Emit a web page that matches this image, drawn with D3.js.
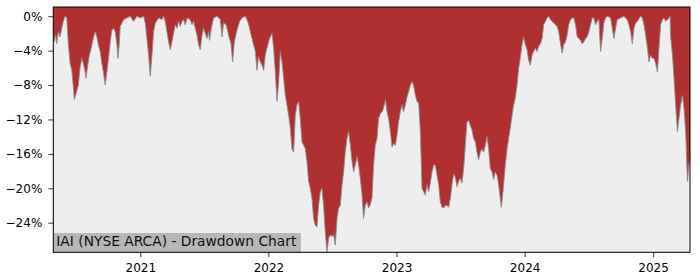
<!DOCTYPE html>
<html>
<head>
<meta charset="utf-8">
<script src="https://cdn.jsdelivr.net/npm/d3@7"></script>
<style>
    body { margin: 0; background: #fff; }
    svg text { font-family: 'DejaVu Sans', sans-serif; }
</style>
</head>
<body>
<svg id="drawdown-svg" width="700" height="280"></svg>
<script>
// dates as decimal years, drawdown in percent
const years = [
    2020.323, 2020.331, 2020.342, 2020.350, 2020.362, 2020.375, 2020.389, 2020.401, 2020.415, 2020.428,
    2020.440, 2020.454, 2020.467, 2020.479, 2020.487, 2020.500, 2020.518, 2020.532, 2020.545, 2020.557,
    2020.571, 2020.578, 2020.589, 2020.604, 2020.615, 2020.631, 2020.641, 2020.649, 2020.662, 2020.674,
    2020.688, 2020.701, 2020.713, 2020.727, 2020.740, 2020.753, 2020.766, 2020.779, 2020.792, 2020.805,
    2020.818, 2020.826, 2020.836, 2020.844, 2020.857, 2020.870, 2020.896, 2020.922,
    2020.948, 2020.974, 2021.000, 2021.026, 2021.039, 2021.052, 2021.065, 2021.078, 2021.091, 2021.104,
    2021.117, 2021.143, 2021.169, 2021.182, 2021.195, 2021.208, 2021.221, 2021.234, 2021.247, 2021.260,
    2021.273, 2021.286, 2021.299, 2021.312, 2021.326, 2021.338, 2021.351, 2021.365, 2021.390, 2021.404,
    2021.416, 2021.429, 2021.443, 2021.455, 2021.468, 2021.482, 2021.494, 2021.507, 2021.521, 2021.533,
    2021.541, 2021.552,
    2021.572, 2021.599, 2021.625, 2021.638, 2021.650, 2021.671, 2021.689, 2021.708, 2021.721, 2021.734,
    2021.755, 2021.775, 2021.794, 2021.820, 2021.838, 2021.853, 2021.872, 2021.884, 2021.898, 2021.911,
    2021.923, 2021.937, 2021.950, 2021.963, 2021.976, 2021.989, 2022.009, 2022.028, 2022.041, 2022.054,
    2022.067, 2022.080, 2022.093, 2022.106, 2022.119, 2022.132, 2022.158, 2022.171,
    2022.184, 2022.197, 2022.210, 2022.223, 2022.236, 2022.249, 2022.262, 2022.275, 2022.288, 2022.301,
    2022.314, 2022.327, 2022.340, 2022.353, 2022.366, 2022.379, 2022.392, 2022.405, 2022.418, 2022.431,
    2022.444, 2022.457, 2022.470, 2022.483, 2022.496, 2022.509, 2022.522, 2022.536, 2022.548, 2022.561,
    2022.575, 2022.587, 2022.600, 2022.614, 2022.626, 2022.639, 2022.653, 2022.665, 2022.678, 2022.692,
    2022.704, 2022.717, 2022.731, 2022.743, 2022.756, 2022.770, 2022.782, 2022.795, 2022.809,
    2022.821, 2022.834, 2022.848, 2022.860, 2022.874, 2022.887, 2022.899, 2022.913, 2022.926, 2022.938,
    2022.952, 2022.965, 2022.977, 2022.991, 2023.004, 2023.016, 2023.030, 2023.043, 2023.055, 2023.069,
    2023.082, 2023.094, 2023.108, 2023.121, 2023.133, 2023.147, 2023.160, 2023.173, 2023.186, 2023.199,
    2023.212, 2023.225, 2023.238, 2023.251, 2023.264, 2023.277, 2023.290, 2023.303, 2023.316, 2023.329,
    2023.342, 2023.355, 2023.368, 2023.381, 2023.394, 2023.407, 2023.420,
    2023.433, 2023.446, 2023.459, 2023.472, 2023.485, 2023.498, 2023.511, 2023.524, 2023.537, 2023.550,
    2023.563, 2023.576, 2023.589, 2023.602, 2023.615, 2023.628, 2023.641, 2023.654, 2023.667, 2023.680,
    2023.693, 2023.706, 2023.719, 2023.732, 2023.746, 2023.758, 2023.771, 2023.785, 2023.797, 2023.810,
    2023.818, 2023.831, 2023.849, 2023.863, 2023.875, 2023.888, 2023.902, 2023.914, 2023.927, 2023.941,
    2023.953, 2023.966, 2023.980, 2023.992, 2024.005, 2024.019, 2024.031, 2024.044,
    2024.058, 2024.070, 2024.084, 2024.097, 2024.109, 2024.123, 2024.136, 2024.148, 2024.162, 2024.175,
    2024.187, 2024.201, 2024.214, 2024.226, 2024.240, 2024.253, 2024.265, 2024.279, 2024.292, 2024.304,
    2024.318, 2024.331, 2024.343, 2024.357, 2024.370, 2024.383, 2024.396, 2024.409, 2024.422, 2024.435,
    2024.448, 2024.461, 2024.474, 2024.487, 2024.500, 2024.513, 2024.526, 2024.539, 2024.552, 2024.565,
    2024.578, 2024.591, 2024.604, 2024.617, 2024.630, 2024.643, 2024.669,
    2024.682, 2024.695, 2024.708, 2024.721, 2024.747, 2024.773, 2024.786, 2024.799, 2024.812, 2024.825,
    2024.838, 2024.851, 2024.864, 2024.877, 2024.903, 2024.916, 2024.929, 2024.942, 2024.956, 2024.968,
    2024.981, 2024.995, 2025.007, 2025.020, 2025.034, 2025.046, 2025.059, 2025.073, 2025.085, 2025.098,
    2025.112, 2025.124, 2025.132, 2025.137, 2025.151, 2025.163, 2025.176, 2025.190, 2025.202, 2025.215,
    2025.229, 2025.241, 2025.254, 2025.268, 2025.280, 2025.288
]

const drawdown = [
    -1.6, -3.0, -2.2, -3.2, -1.8, -2.4, -1.4, -0.6, 0, -0.2,
    -3.3, -5.5, -6.3, -8.2, -9.7, -9.0, -8.0, -5.9, -4.9, -5.5,
    -6.5, -7.2, -5.9, -4.5, -3.9, -2.8, -2.2, -1.8, -2.4, -3.3,
    -4.1, -5.5, -6.5, -8.0, -6.5, -4.9, -3.0, -1.6, -1.4, -1.8,
    -3.3, -4.9, -3.3, -1.2, -0.8, -0.4, -0.2, 0,
    -0.6, 0, -0.2, 0, -0.8, -2.6, -4.5, -7.0, -4.5, -1.8,
    -0.8, -0.2, -0.4, 0, -0.6, -1.8, -3.0, -3.9, -3.0, -2.0,
    -1.0, -1.4, -0.6, -1.2, -0.6, -0.4, -1.0, -0.2, -0.4, -1.0,
    -0.6, -1.4, -2.2, -3.3, -3.9, -2.2, -1.4, -2.0, -2.6, -1.8,
    -2.8, -1.6,
    -0.2, 0, -0.4, -2.4, -0.8, -1.0, -2.2, -3.2, -5.3, -3.0,
    -1.6, -0.6, -0.2, 0, -0.6, -1.4, -2.6, -3.3, -4.1, -6.3,
    -4.7, -5.3, -5.7, -6.3, -4.5, -3.7, -2.6, -2.0, -3.7, -6.5,
    -9.9, -7.6, -4.1, -5.3, -7.2, -9.2, -11.5, -13.0,
    -15.4, -15.8, -11.5, -10.3, -9.9, -11.9, -14.6, -15.0, -15.4, -16.9,
    -19.2, -20.0, -21.2, -23.5, -24.3, -24.5, -22.0, -20.4, -20.0, -22.0,
    -25.1, -27.4, -25.8, -25.4, -25.6, -25.4, -26.6, -23.5, -22.3, -22.0,
    -19.6, -18.1, -15.8, -14.2, -13.4, -14.9, -16.9, -18.1, -17.3, -16.3,
    -17.3, -18.8, -20.8, -23.5, -22.0, -21.6, -22.3, -21.9, -21.1,
    -17.3, -15.0, -14.2, -11.9, -11.3, -11.1, -10.7, -9.7, -11.1, -11.9,
    -13.4, -15.2, -14.8, -15.0, -13.8, -12.3, -11.1, -10.3, -11.1, -10.3,
    -9.4, -8.8, -8.0, -7.6, -8.0, -9.2, -9.9, -10.1, -13.4, -20.0,
    -20.4, -20.8, -19.6, -20.4, -19.4, -18.1, -17.3, -17.3, -18.5, -19.6,
    -21.6, -22.2, -22.3, -22.0, -22.0, -22.2, -21.2,
    -19.6, -18.3, -18.7, -19.8, -19.2, -18.8, -19.4, -17.7, -15.0, -12.3,
    -12.1, -12.7, -13.2, -14.2, -14.6, -15.8, -16.7, -15.8, -15.4, -15.8,
    -15.0, -14.0, -15.4, -17.7, -18.1, -19.0, -18.1, -18.5, -19.6, -21.2,
    -22.2, -20.4, -17.3, -15.4, -14.2, -13.0, -11.5, -10.3, -9.5, -8.0,
    -6.1, -4.9, -3.3, -2.4, -3.3, -3.9, -5.1, -5.7,
    -4.5, -4.1, -3.7, -4.1, -3.5, -3.2, -2.6, -1.0, -0.6, -0.2,
    0, -0.4, -0.6, -0.8, -1.0, -1.2, -1.8, -3.2, -4.3, -3.3,
    -3.0, -2.2, -1.0, -0.4, -0.2, -0.2, -1.0, -2.4, -2.6, -2.8,
    -3.2, -3.0, -2.6, -2.4, -1.8, -1.0, -0.2, -0.2, -1.0, -0.6,
    -0.4, -4.1, -2.6, -0.8, -0.2, 0, -0.2,
    -1.4, -2.6, -1.4, -0.4, -0.2, 0, -0.2, -0.4, -1.0, -1.8,
    -3.2, -1.4, -0.8, -0.6, 0, -0.2, -1.0, -2.2, -3.7, -5.3,
    -4.5, -4.9, -4.9, -5.5, -6.5, -3.7, -1.0, -0.4, -0.2, -0.6,
    -0.4, -0.2, 0, -2.4, -4.5, -7.2, -10.3, -13.4, -11.9, -10.3,
    -9.2, -10.7, -13.4, -19.2, -17.3, -16.5
]

const Y_TICKS = [0, -4, -8, -12, -16, -20, -24]
const X_TICK_YEARS = [2021, 2022, 2023, 2024, 2025]
const Y_LIMITS = [-27.44, 1.07]
const CHART_LABEL = 'IAI (NYSE ARCA) - Drawdown Chart'

// decimal year -> Date
function yearToDate(y) {
    const yr = Math.floor(y)
    const start = new Date(yr, 0, 1)
    const end = new Date(yr + 1, 0, 1)
    return new Date(+start + (y - yr) * (end - start))
}

const data = years.map((yr, i) => ({ date: yearToDate(yr), value: drawdown[i] }))

displayDrawdown(data)

function displayDrawdown(data) {
    const svg = d3.select('#drawdown-svg')
    const width = 700
    const height = 280

    // create margins
    const margin = { top: 7, right: 10, bottom: 27.7, left: 53.3 }
    const contentWidth = width - margin.left - margin.right
    const contentHeight = height - margin.top - margin.bottom

    const g = svg.append('g')
        .attr('transform', `translate(${margin.left},${margin.top})`)

    const x = d3.scaleTime()
        .domain(d3.extent(data, d => d.date))
        .range([0, contentWidth])

    const y = d3.scaleLinear()
        .domain(Y_LIMITS)
        .range([contentHeight, 0])

    // red background = drawdown region, grey below the curve
    g.append('rect')
        .attr('width', contentWidth)
        .attr('height', contentHeight)
        .style('fill', '#b03030')

    const area = d3.area()
        .x(d => x(d.date))
        .y0(contentHeight)
        .y1(d => y(d.value))

    g.append('path')
        .datum(data)
        .attr('d', area)
        .style('fill', '#eeeeee')

    const line = d3.line()
        .x(d => x(d.date))
        .y(d => y(d.value))

    g.append('path')
        .datum(data)
        .attr('d', line)
        .style('fill', 'none')
        .style('stroke', '#8c8c8c')
        .style('stroke-width', 0.9)

    // y axis
    const yAxis = g.append('g')
        .call(d3.axisLeft(y)
            .tickValues(Y_TICKS)
            .tickSize(5)
            .tickPadding(6)
            .tickFormat(d => d === 0 ? '0%' : '\u2212' + Math.abs(d) + '%'))
    yAxis.select('.domain').remove()

    // x axis
    const xAxis = g.append('g')
        .attr('transform', `translate(0, ${contentHeight})`)
        .call(d3.axisBottom(x)
            .tickValues(X_TICK_YEARS.map(yr => new Date(yr, 0, 1)))
            .tickSize(5)
            .tickPadding(6)
            .tickFormat(d3.timeFormat('%Y')))
    xAxis.select('.domain').remove()

    g.selectAll('.tick text')
        .style('font-size', '12px')
        .style('fill', '#000')
    g.selectAll('.tick line')
        .style('stroke', '#000')
        .style('stroke-width', 0.8)

    // label box in bottom-left corner
    const labelBox = g.append('rect')
        .attr('x', 0.5)
        .attr('y', contentHeight - 19.3)
        .attr('height', 19.3)
        .style('fill', '#b7b7b7')

    const labelText = g.append('text')
        .attr('x', 3)
        .attr('y', contentHeight - 6.3)
        .style('font-size', '13.8px')
        .style('fill', '#111')
        .text(CHART_LABEL)
    labelBox.attr('width', labelText.node().getBBox().width + 6.5)

    // frame
    g.append('rect')
        .attr('width', contentWidth)
        .attr('height', contentHeight)
        .style('fill', 'none')
        .style('stroke', '#000')
        .style('stroke-width', 1)
}
</script>
</body>
</html>
